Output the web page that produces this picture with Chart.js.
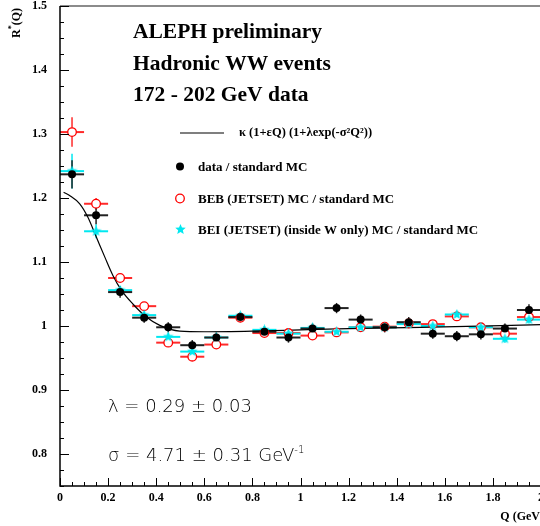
<!DOCTYPE html>
<html>
<head>
<meta charset="utf-8">
<script src="https://cdn.jsdelivr.net/npm/chart.js@4.4.0/dist/chart.umd.min.js"></script>
<style>
  html, body { margin: 0; padding: 0; background: #fff; overflow: hidden; }
  #wrap { width: 548px; height: 526px; }
</style>
</head>
<body>
<div id="wrap"><canvas id="chart" width="548" height="526"></canvas></div>
<script>
// Q bins (GeV), each bin is 0.1 wide
const binCenters = [0.05, 0.15, 0.25, 0.35, 0.45, 0.55, 0.65, 0.75, 0.85, 0.95,
                    1.05, 1.15, 1.25, 1.35, 1.45, 1.55, 1.65, 1.75, 1.85, 1.95];
const binHalfWidth = 0.05;

// data / standard MC
const dataRatio = [1.237, 1.173, 1.053, 1.013, 0.998, 0.970, 0.982, 1.014, 0.991, 0.982,
                   0.996, 1.028, 1.010, 0.998, 1.006, 0.988, 0.984, 0.987, 0.996, 1.025];
const dataErr   = [0.022, 0.014, 0.009, 0.008, 0.008, 0.008, 0.008, 0.008, 0.008, 0.008,
                   0.008, 0.008, 0.008, 0.008, 0.008, 0.008, 0.008, 0.008, 0.008, 0.009];

// BEB (JETSET) MC / standard MC
const bebRatio = [1.303, 1.191, 1.075, 1.031, 0.974, 0.952, 0.971, 1.013, 0.989, 0.989,
                  0.985, 0.990, 0.998, 0.999, 1.004, 1.003, 1.015, 0.998, 0.988, 1.014];
const bebErr   = [0.023, 0.009, 0.006, 0.006, 0.006, 0.006, 0.006, 0.006, 0.006, 0.006,
                  0.006, 0.006, 0.006, 0.006, 0.006, 0.006, 0.006, 0.006, 0.006, 0.006];

// BEI (JETSET) (inside W only) MC / standard MC
const beiRatio = [1.242, 1.148, 1.056, 1.017, 0.983, 0.960, 0.982, 1.016, 0.994, 0.988,
                  0.997, 0.991, 0.998, 0.998, 1.003, 1.000, 1.018, 0.998, 0.980, 1.010];
const beiErr   = [0.027, 0.011, 0.006, 0.006, 0.006, 0.006, 0.006, 0.006, 0.006, 0.006,
                  0.006, 0.006, 0.006, 0.006, 0.006, 0.006, 0.006, 0.006, 0.006, 0.006];

// fitted curve
const fitQ = [0.015, 0.04, 0.082, 0.116, 0.151, 0.186, 0.22, 0.255, 0.304, 0.359,
              0.415, 0.498, 0.6, 0.8, 1.0, 1.2, 1.5, 2.0];
const fitR = [1.209, 1.204, 1.191, 1.170, 1.139, 1.108, 1.079, 1.056, 1.034, 1.014,
              1.001, 0.992, 0.991, 0.992, 0.994, 0.996, 0.998, 1.002];

const xTickVals = [0, 0.2, 0.4, 0.6, 0.8, 1, 1.2, 1.4, 1.6, 1.8, 2];
const yTickVals = [0.8, 0.9, 1, 1.1, 1.2, 1.3, 1.4, 1.5];

const serif = "'Liberation Serif', 'Times New Roman', serif";
const sans = "'DejaVu Sans', sans-serif";

const pts = (ys) => binCenters.map((q, i) => ({ x: q, y: ys[i] }));

// little filled star used for the BEI points
function makeStar(size, color) {
  const c = document.createElement('canvas');
  c.width = size; c.height = size;
  const g = c.getContext('2d');
  const r = size / 2, ri = r * 0.45;
  g.beginPath();
  for (let k = 0; k < 10; k++) {
    const a = -Math.PI / 2 + k * Math.PI / 5;
    const rr = k % 2 ? ri : r;
    g.lineTo(r + rr * Math.cos(a), r + rr * Math.sin(a));
  }
  g.closePath();
  g.fillStyle = color;
  g.fill();
  return c;
}
const star = makeStar(11, '#00e8f0');

const errorBars = {
  id: 'errorBars',
  beforeDatasetsDraw(chart) {
    const { ctx, scales: { x, y } } = chart;
    ctx.save();
    const list = chart.data.datasets.filter(d => d.yErr).reverse();
    list.forEach(ds => {
      ctx.strokeStyle = ds.barColor;
      ds.data.forEach((p, i) => {
        const px = x.getPixelForValue(p.x), py = y.getPixelForValue(p.y);
        ctx.lineWidth = 2;
        ctx.beginPath();
        ctx.moveTo(x.getPixelForValue(p.x - binHalfWidth), py);
        ctx.lineTo(x.getPixelForValue(p.x + binHalfWidth), py);
        ctx.stroke();
        ctx.lineWidth = 1.5;
        ctx.beginPath();
        ctx.moveTo(px, y.getPixelForValue(p.y + ds.yErr[i]));
        ctx.lineTo(px, y.getPixelForValue(p.y - ds.yErr[i]));
        ctx.stroke();
      });
    });
    ctx.restore();
  }
};

const decorations = {
  id: 'decorations',
  afterDraw(chart) {
    const { ctx, chartArea: a, scales: { x, y } } = chart;
    ctx.save();

    // frame
    ctx.strokeStyle = '#666';
    ctx.lineWidth = 1.5;
    ctx.beginPath();
    ctx.moveTo(a.left, a.top); ctx.lineTo(a.right, a.top); ctx.lineTo(a.right, a.bottom);
    ctx.stroke();
    ctx.strokeStyle = '#000';
    ctx.beginPath();
    ctx.moveTo(a.left, a.top); ctx.lineTo(a.left, a.bottom); ctx.lineTo(a.right, a.bottom);
    ctx.stroke();

    // inward ticks
    ctx.lineWidth = 1;
    ctx.beginPath();
    for (let k = 0; k <= 30; k++) {
      const v = 0.75 + k * 0.025;
      const py = Math.round(y.getPixelForValue(v)) + 0.5;
      const len = (k % 4 === 2) ? 9 : 4;
      ctx.moveTo(a.left, py); ctx.lineTo(a.left + len, py);
    }
    for (let k = 0; k <= 40; k++) {
      const px = Math.round(x.getPixelForValue(k * 0.05)) + 0.5;
      const len = (k % 4 === 0) ? 8 : 4;
      ctx.moveTo(px, a.bottom); ctx.lineTo(px, a.bottom - len);
    }
    ctx.stroke();

    // header
    ctx.fillStyle = '#000';
    ctx.textAlign = 'left';
    ctx.textBaseline = 'alphabetic';
    ctx.font = 'bold 21.5px ' + serif;
    ctx.fillText('ALEPH preliminary', 133, 38);
    ctx.fillText('Hadronic WW events', 133, 70);
    ctx.fillText('172 - 202 GeV data', 133, 101);

    // legend
    ctx.lineWidth = 1.2;
    ctx.beginPath(); ctx.moveTo(180, 133); ctx.lineTo(224, 133); ctx.stroke();
    ctx.font = 'bold 12.5px ' + serif;
    ctx.fillText('\u03ba (1+\u03b5Q) (1+\u03bbexp(-\u03c3\u00b2Q\u00b2))', 239, 136);

    ctx.font = 'bold 13px ' + serif;
    ctx.beginPath(); ctx.arc(180, 166.5, 4, 0, Math.PI * 2); ctx.fill();
    ctx.fillText('data / standard MC', 198, 171);

    ctx.strokeStyle = '#ff0000'; ctx.lineWidth = 1.3;
    ctx.beginPath(); ctx.arc(180, 198.5, 4.3, 0, Math.PI * 2); ctx.stroke();
    ctx.fillText('BEB (JETSET) MC / standard MC', 198, 203);

    ctx.drawImage(star, 175, 224);
    ctx.fillText('BEI (JETSET) (inside W only) MC / standard MC', 198, 234);

    // fit results
    ctx.font = '200 18px ' + sans;
    ctx.fillText('\u03bb = 0.29 \u00b1 0.03', 108, 412);
    const sig = '\u03c3 = 4.71 \u00b1 0.31 GeV';
    ctx.fillText(sig, 108, 461);
    const w = ctx.measureText(sig).width;
    ctx.font = '200 10px ' + sans;
    ctx.fillText('-1', 108 + w, 453);

    // axis titles
    ctx.font = 'bold 12px ' + serif;
    ctx.textAlign = 'right';
    ctx.fillText('Q (GeV)', 544, 520);

    ctx.save();
    ctx.translate(20, 38);
    ctx.rotate(-Math.PI / 2);
    ctx.textAlign = 'left';
    ctx.font = 'bold 12px ' + serif;
    ctx.fillText('R', 0, 0);
    const rw = ctx.measureText('R').width;
    ctx.font = 'bold 8px ' + serif;
    ctx.fillText('*', rw, -6);
    ctx.font = 'bold 12px ' + serif;
    ctx.fillText('(Q)', rw + 4, 0);
    ctx.restore();

    ctx.restore();
  }
};

new Chart(document.getElementById('chart'), {
  type: 'scatter',
  data: {
    datasets: [
      {
        label: 'data / standard MC',
        data: pts(dataRatio),
        yErr: dataErr,
        barColor: '#222',
        pointStyle: 'circle',
        pointRadius: 4,
        pointBackgroundColor: '#000',
        pointBorderColor: '#000',
        pointBorderWidth: 0
      },
      {
        label: 'BEI (JETSET) (inside W only) MC / standard MC',
        data: pts(beiRatio),
        yErr: beiErr,
        barColor: '#00e8f0',
        pointStyle: star,
        pointRadius: 5
      },
      {
        label: 'BEB (JETSET) MC / standard MC',
        data: pts(bebRatio),
        yErr: bebErr,
        barColor: '#ff2a2a',
        pointStyle: 'circle',
        pointRadius: 4.3,
        pointBackgroundColor: '#fff',
        pointBorderColor: '#ff0000',
        pointBorderWidth: 1.3
      },
      {
        label: 'fit',
        data: fitQ.map((q, i) => ({ x: q, y: fitR[i] })),
        showLine: true,
        borderColor: '#000',
        borderWidth: 1.2,
        pointRadius: 0,
        cubicInterpolationMode: 'monotone'
      }
    ]
  },
  options: {
    responsive: false,
    animation: false,
    events: [],
    layout: { padding: { top: 6, right: 7, left: 0, bottom: 0 } },
    plugins: { legend: { display: false }, tooltip: { enabled: false } },
    scales: {
      x: {
        type: 'linear',
        min: 0,
        max: 2,
        grid: { display: false, drawTicks: false },
        border: { display: false },
        afterBuildTicks: (s) => { s.ticks = xTickVals.map(v => ({ value: v })); },
        afterFit: (s) => { s.height = 40; s.paddingLeft = 0; s.paddingRight = 0; },
        ticks: {
          padding: 5,
          color: '#000',
          maxRotation: 0,
          font: { family: serif, size: 12, weight: 'bold' },
          callback: (v) => String(Math.round(v * 10) / 10)
        }
      },
      y: {
        type: 'linear',
        min: 0.75,
        max: 1.5,
        grid: { display: false, drawTicks: false },
        border: { display: false },
        afterBuildTicks: (s) => { s.ticks = yTickVals.map(v => ({ value: v })); },
        afterFit: (s) => { s.width = 60; s.paddingTop = 0; s.paddingBottom = 0; },
        ticks: {
          padding: 13,
          color: '#000',
          font: { family: serif, size: 12, weight: 'bold' },
          callback: (v) => String(Math.round(v * 10) / 10)
        }
      }
    }
  },
  plugins: [errorBars, decorations]
});
</script>
</body>
</html>
